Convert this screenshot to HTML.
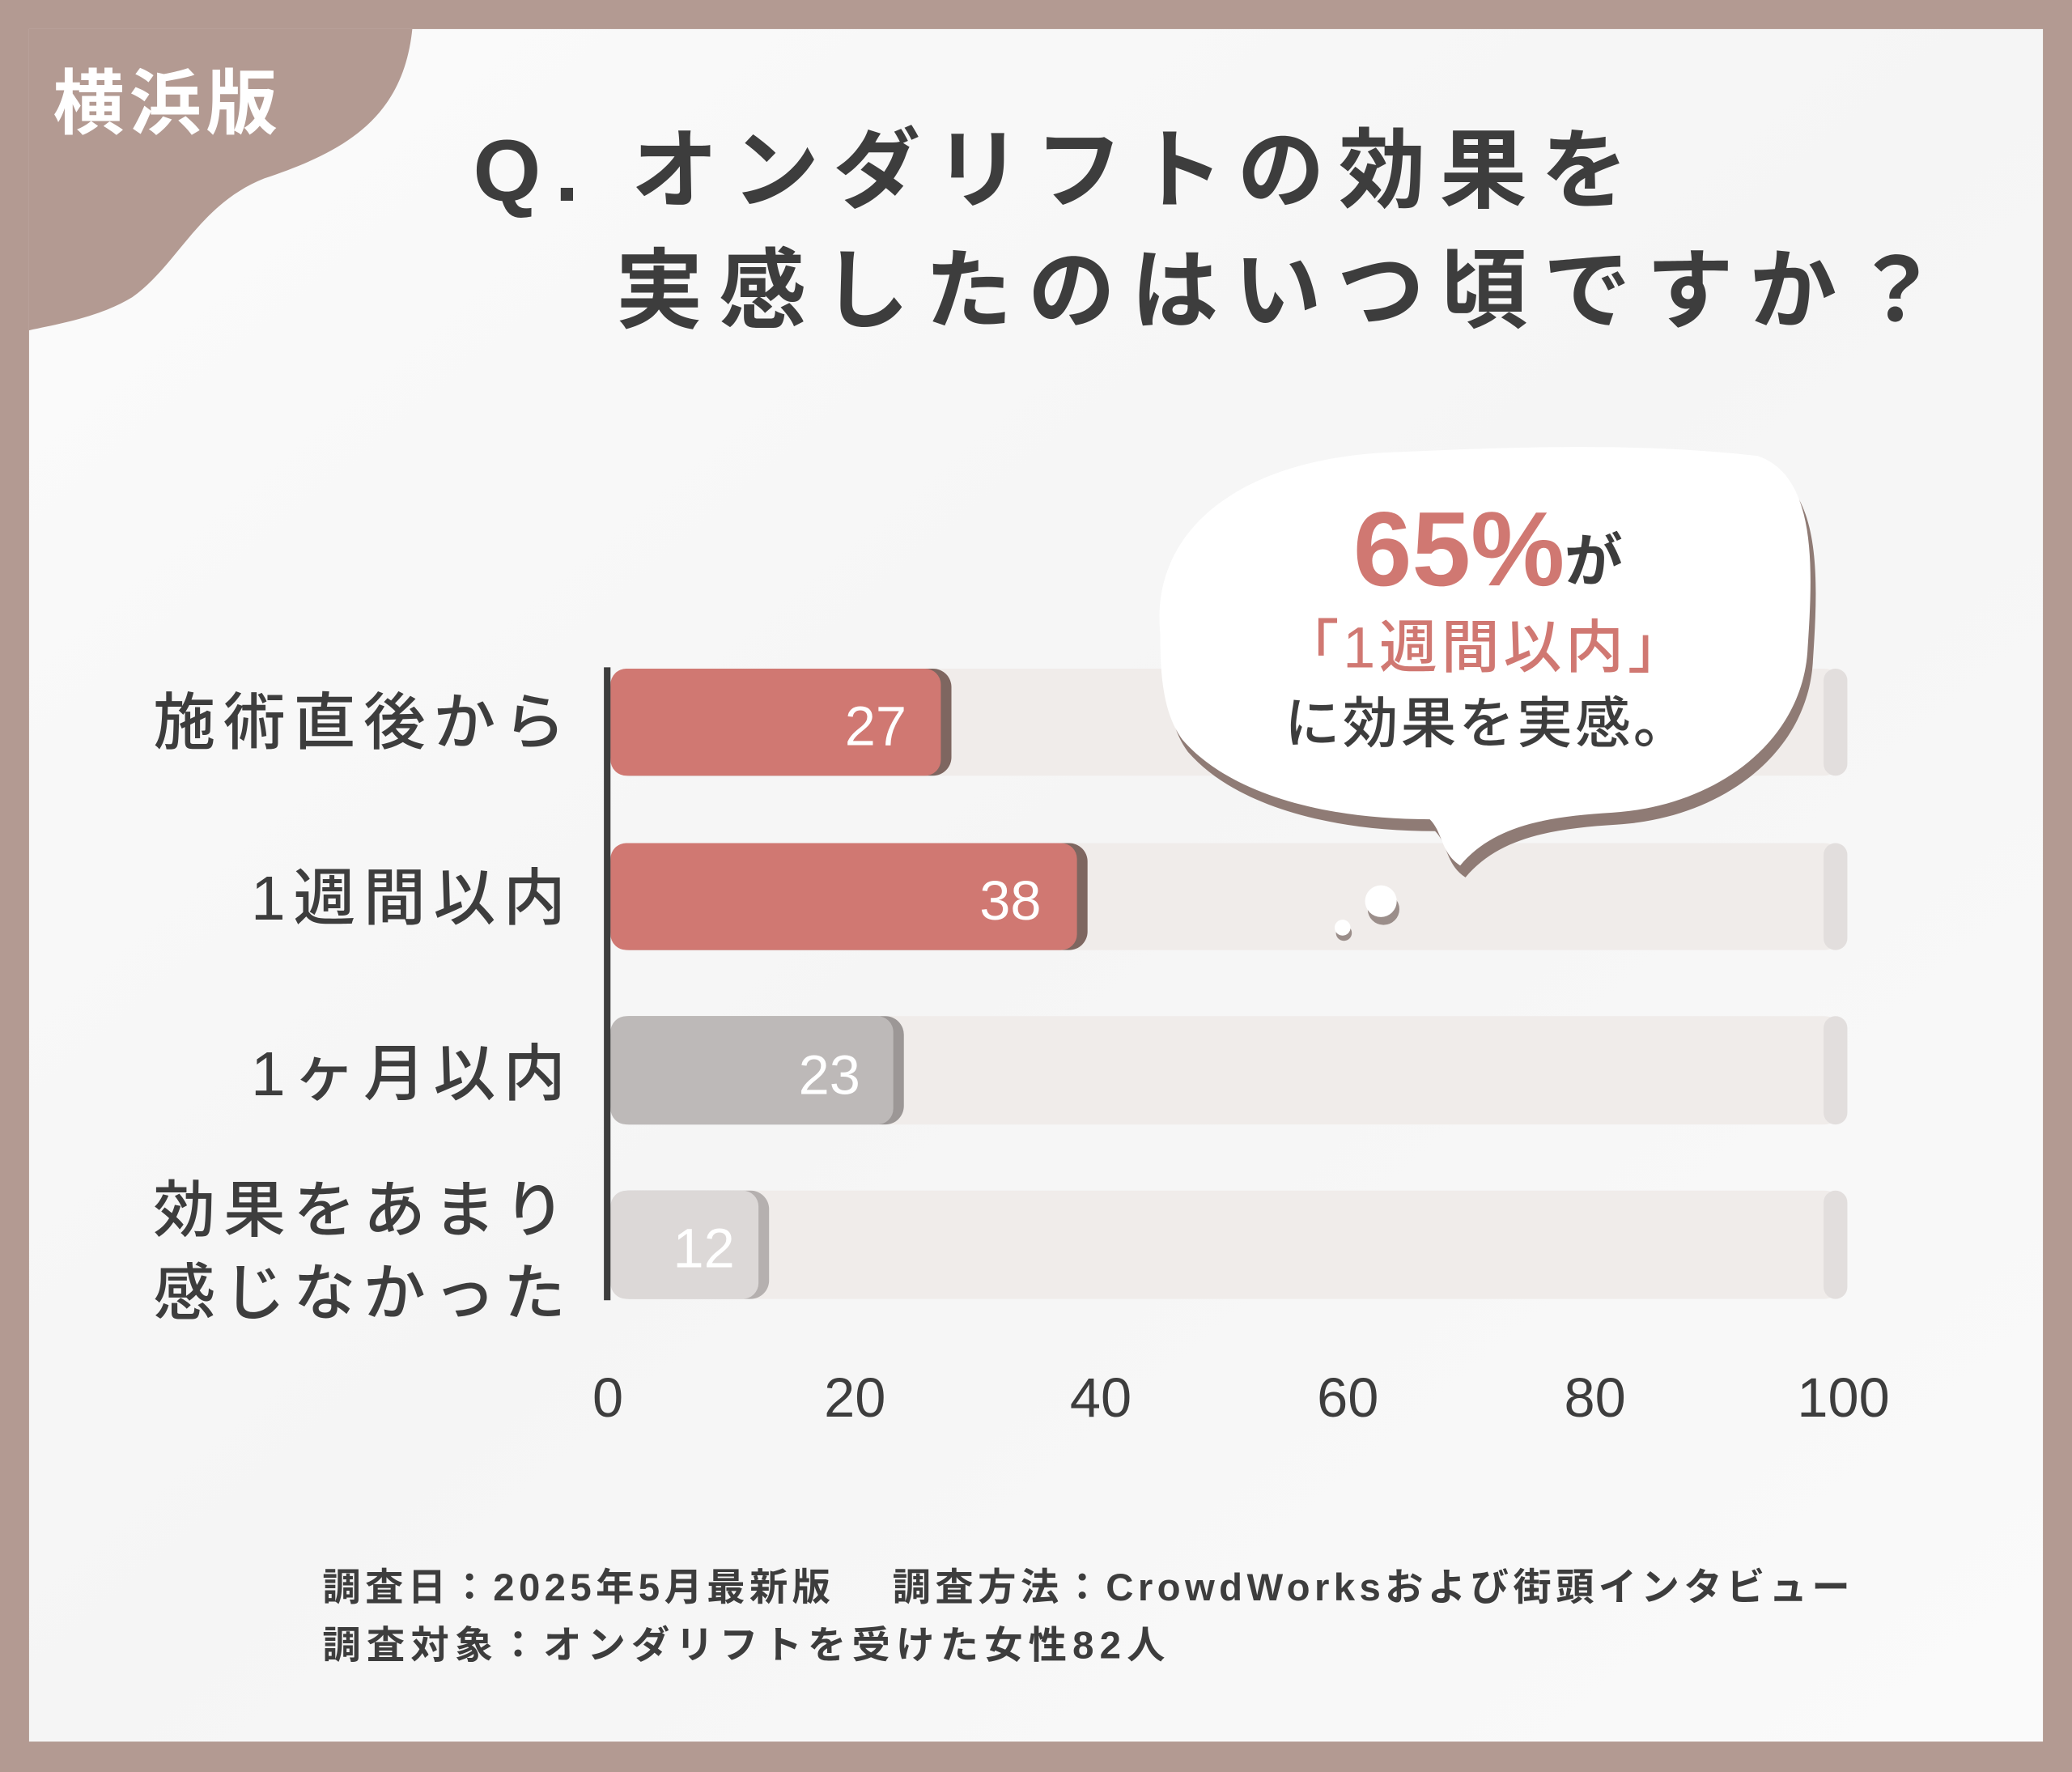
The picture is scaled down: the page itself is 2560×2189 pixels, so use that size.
<!DOCTYPE html>
<html><head><meta charset="utf-8"><style>
html,body{margin:0;padding:0;background:#b39a92;}
svg{display:block}
text{font-family:"Liberation Sans","Noto Sans CJK JP",sans-serif;}
</style></head><body>
<svg width="2560" height="2189" viewBox="0 0 1568 1341" preserveAspectRatio="none" xmlns="http://www.w3.org/2000/svg">
<defs>
<linearGradient id="bg" x1="0" y1="0" x2="1" y2="1">
<stop offset="0" stop-color="#fbfbfb"/><stop offset="0.5" stop-color="#f5f5f5"/><stop offset="1" stop-color="#fafafa"/>
</linearGradient>
</defs>
<rect x="0" y="0" width="1568" height="1341" fill="#b39a92"/>
<rect x="22" y="22" width="1524" height="1296" fill="url(#bg)"/>
<path d="M22,22 L312,22 C305,90 260,115 200,135 C150,155 135,200 100,225 C75,240 45,245 22,250 Z" fill="#b39a92"/>
<text x="40" y="97" font-size="54" font-weight="700" fill="#ffffff" letter-spacing="4">横浜版</text>
<text x="358" y="152" font-size="66" font-weight="700" fill="#3d3d3d" letter-spacing="10.5">Q. オンダリフトの効果を</text>
<text x="466" y="243" font-size="66" font-weight="700" fill="#3d3d3d" letter-spacing="12">実感したのはいつ頃ですか？</text>

<g fill="#f0ecea">
<rect x="462" y="506" width="936" height="81" rx="18"/>
<rect x="462" y="638" width="936" height="81" rx="18"/>
<rect x="462" y="769" width="936" height="82" rx="18"/>
<rect x="462" y="901" width="936" height="82" rx="18"/>
</g>
<g fill="#e2dedd">
<rect x="1380" y="506" width="18" height="81" rx="9"/>
<rect x="1380" y="638" width="18" height="81" rx="9"/>
<rect x="1380" y="769" width="18" height="82" rx="9"/>
<rect x="1380" y="901" width="18" height="82" rx="9"/>
</g>
<rect x="462" y="506" width="258" height="81" rx="14" fill="#7e6660"/>
<rect x="462" y="506" width="250" height="81" rx="12" fill="#d07872"/>
<rect x="462" y="638" width="361" height="81" rx="14" fill="#7e6660"/>
<rect x="462" y="638" width="353" height="81" rx="12" fill="#d07872"/>
<rect x="462" y="769" width="222" height="82" rx="14" fill="#9c9796"/>
<rect x="462" y="769" width="214" height="82" rx="12" fill="#bdb9b8"/>
<rect x="462" y="901" width="120" height="82" rx="14" fill="#b5b0af"/>
<rect x="462" y="901" width="112" height="82" rx="12" fill="#dcd8d7"/>
<g font-size="42" fill="#ffffff" text-anchor="end">
<text x="686" y="564">27</text>
<text x="788" y="696">38</text>
<text x="651" y="828">23</text>
<text x="556" y="959">12</text>
</g>
<rect x="457" y="505" width="5" height="479" fill="#3d3d3d"/>
<g font-size="47" font-weight="500" fill="#3d3d3d" text-anchor="end" letter-spacing="6">
<text x="434" y="563">施術直後から</text>
<text x="434" y="696">1週間以内</text>
<text x="434" y="829">1ヶ月以内</text>
<text x="434" y="932">効果をあまり</text>
<text x="434" y="995">感じなかった</text>
</g>
<g font-size="42" fill="#3d3d3d" text-anchor="middle">
<text x="460" y="1072">0</text><text x="647" y="1072">20</text><text x="833" y="1072">40</text>
<text x="1020" y="1072">60</text><text x="1207" y="1072">80</text><text x="1395" y="1072">100</text>
</g>

<path transform="translate(4,9)" d="M878,480 C870,400 940,345 1060,342 C1150,338 1240,335 1330,345 C1375,360 1372,430 1368,490 C1365,560 1300,610 1220,615 C1170,618 1130,625 1105,655 C1090,645 1092,630 1082,620 C1000,620 930,600 895,560 C880,540 878,510 878,480 Z" fill="#8f7b75"/>
<path d="M878,480 C870,400 940,345 1060,342 C1150,338 1240,335 1330,345 C1375,360 1372,430 1368,490 C1365,560 1300,610 1220,615 C1170,618 1130,625 1105,655 C1090,645 1092,630 1082,620 C1000,620 930,600 895,560 C880,540 878,510 878,480 Z" fill="#ffffff"/>
<circle cx="1047" cy="688" r="12" fill="#9b8e8a"/>
<circle cx="1045" cy="682" r="12" fill="#ffffff"/>
<circle cx="1017" cy="706" r="6" fill="#9b8e8a"/>
<circle cx="1016" cy="702" r="6" fill="#ffffff"/>
<text x="1024" y="443" font-size="80" font-weight="700" fill="#d07872">65%</text>
<text x="1184" y="440" font-size="44" font-weight="700" fill="#3d3d3d">が</text>
<text x="1124" y="505" font-size="44" font-weight="500" fill="#d07872" text-anchor="middle" letter-spacing="3">「1週間以内」</text>
<text x="1126" y="562" font-size="42" font-weight="500" fill="#3d3d3d" text-anchor="middle" letter-spacing="2">に効果を実感。</text>

<g font-size="29" font-weight="700" fill="#3d3d3d">
<text x="244" y="1211" letter-spacing="3.3">調査日：2025年5月最新版　 調査方法：CrowdWorksおよび街頭インタビュー</text>
<text x="244" y="1255" letter-spacing="4.4">調査対象：オンダリフトを受けた女性82人</text>
</g>
</svg>
</body></html>
